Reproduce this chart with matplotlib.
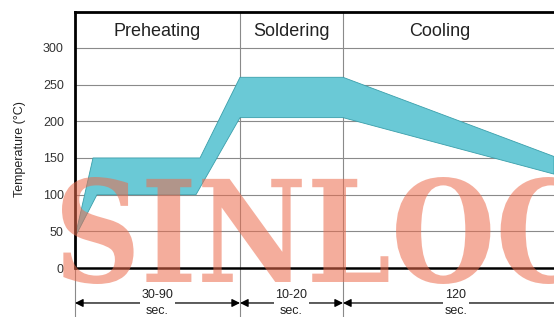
import matplotlib
matplotlib.use("Agg")
import matplotlib.pyplot as plt
import numpy as np
from matplotlib.textpath import TextPath
from matplotlib.font_manager import FontProperties
from matplotlib.patches import PathPatch
from matplotlib.transforms import Affine2D

plt.rcParams['font.family'] = ['Liberation Sans', 'DejaVu Sans']

# reflow profile band (time in arbitrary units, temperature in degC)
t_upper = [0, 18, 125, 165, 268, 479]
temp_upper = [42, 150, 150, 260, 260, 152]
t_lower = [0, 22, 121, 165, 268, 479]
temp_lower = [42, 100, 100, 205, 205, 128]

# zones
zone_names = ['Preheating', 'Soldering', 'Cooling']
zone_label_x = [82, 216, 365]
zone_edges = [165, 268]

# duration dimensions under the axis
dim_start = [0, 165, 268]
dim_end = [165, 268, 494]
dim_labels = ['30-90\nsec.', '10-20\nsec.', '120\nsec.']

yticks = [0, 50, 100, 150, 200, 250, 300]

W, H = 554, 317
fig = plt.figure(figsize=(W / 100, H / 100), dpi=100)
ax = fig.add_axes([75 / W, 0, 479 / W, 305 / H])
ymin, ymax = -66.8, 349
ax.set_xlim(0, 479)
ax.set_ylim(ymin, ymax)

for s in ['left', 'right', 'bottom']:
    ax.spines[s].set_visible(False)
ax.spines['top'].set_linewidth(2)

grid_c = '#8a8a8a'
for v in yticks[1:]:
    ax.axhline(v, color=grid_c, lw=0.8, zorder=1)
for x in zone_edges:
    ax.axvline(x, color=grid_c, lw=0.8, zorder=1)
ax.plot([0, 0], [ymin, 0], color=grid_c, lw=0.8, clip_on=False, zorder=1)

# band
poly_t = np.r_[t_upper, t_lower[::-1]]
poly_T = np.r_[temp_upper, temp_lower[::-1]]
ax.fill(poly_t, poly_T, facecolor='#6ac9d6', edgecolor='#3a9fab', lw=0.6, zorder=2)

# frame lines
ax.axhline(0, color='black', lw=1.8, zorder=3)
ax.plot([0, 0], [0, ymax], color='black', lw=2, clip_on=False, zorder=3)

ax.set_xticks([])
ax.set_yticks(yticks)
ax.tick_params(axis='y', length=0, pad=8, labelsize=9, labelcolor='#333333')
ax.set_ylabel('Temperature (°C)', fontsize=9, color='#222222')
ax.yaxis.set_label_coords(-0.103, 0.552)

for name, xc in zip(zone_names, zone_label_x):
    ax.text(xc, 323, name, ha='center', va='center', fontsize=13, color='#222222')

# dimension arrows
y_dim = -47.7
for a, b, lab in zip(dim_start, dim_end, dim_labels):
    ax.annotate('', xy=(b, y_dim), xytext=(a, y_dim),
                arrowprops=dict(arrowstyle='<|-|>', color='black', lw=0.9,
                                shrinkA=0, shrinkB=0, mutation_scale=12),
                annotation_clip=False)
    ax.text((a + b) / 2, y_dim, lab, ha='center', va='center', fontsize=9,
            linespacing=1.35, color='#222222', clip_on=False,
            bbox=dict(facecolor='white', edgecolor='none', pad=1))

# watermark
fp = FontProperties(family='DejaVu Serif', weight='bold')
tp = TextPath((0, 0), 'SINLOC', size=100, prop=fp)
ext = tp.get_extents()
x0, x1 = 62 / W, 585 / W
y0, y1 = 1 - 284 / H, 1 - 177 / H
tr = (Affine2D().translate(-ext.x0, -ext.y0)
      .scale((x1 - x0) / ext.width, (y1 - y0) / ext.height)
      .translate(x0, y0))
wm = PathPatch(tr.transform_path(tp), facecolor='#ec6b4c', edgecolor='none',
               alpha=0.55, transform=fig.transFigure, zorder=5)
fig.add_artist(wm)

fig.savefig('out.png', dpi=100)
